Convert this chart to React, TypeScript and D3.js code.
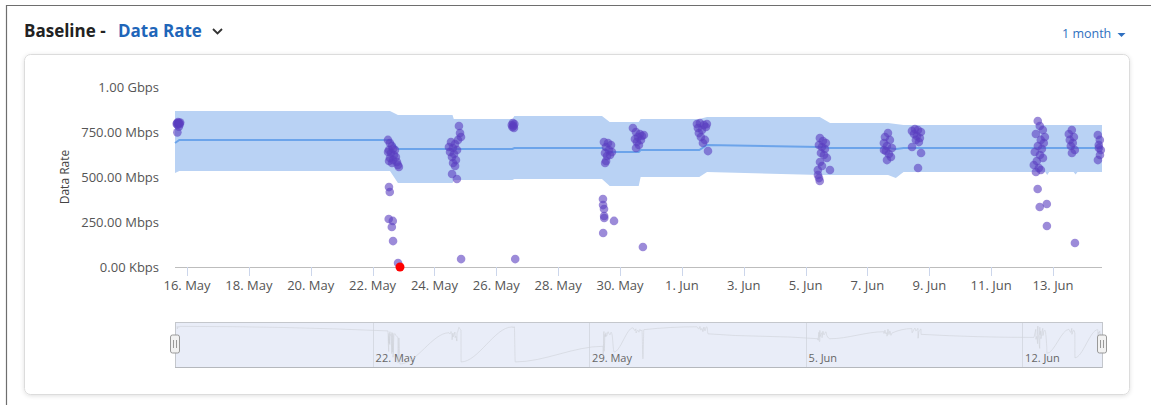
import * as d3 from 'd3'
import { useEffect, useRef } from 'react'

const parseTime = d3.timeParse('%Y-%m-%d %H:%M')

// baseline band (Mbps)
const bandTimes = [
  '2023-05-15 14:40', '2023-05-15 18:00', '2023-05-22 13:30', '2023-05-22 19:40',
  '2023-05-24 14:00', '2023-05-24 15:00', '2023-05-26 12:30', '2023-05-26 14:00',
  '2023-05-29 10:00', '2023-05-29 16:00', '2023-05-30 14:30', '2023-05-30 16:00',
  '2023-06-01 13:30', '2023-06-01 19:30', '2023-06-05 11:00', '2023-06-05 19:00',
  '2023-06-07 16:00', '2023-06-07 22:00', '2023-06-08 04:00', '2023-06-12 18:00',
  '2023-06-12 19:30', '2023-06-12 21:00', '2023-06-13 16:00', '2023-06-13 17:30',
  '2023-06-13 19:00', '2023-06-14 14:00',
]
const bandLower = [
  522, 533, 533, 467, 467, 483, 483, 489, 489, 450, 450, 500, 500, 528, 511, 511,
  511, 494, 528, 528, 511, 528, 528, 514, 528, 528,
]
const bandMean = [
  689, 706, 706, 656, 656, 656, 656, 661, 661, 639, 639, 650, 650, 678, 667, 661,
  661, 656, 661, 661, 661, 661, 661, 661, 661, 661,
]
const bandUpper = [
  867, 867, 867, 844, 844, 822, 822, 839, 839, 806, 806, 822, 822, 833, 833, 800,
  800, 795, 789, 789, 789, 789, 789, 789, 789, 789,
]

// observed data rate samples (Mbps)
const samples: [string, number][] = [
  ['2023-05-15 16:00', 795], ['2023-05-15 16:20', 800], ['2023-05-15 16:30', 748], ['2023-05-15 16:40', 790],
  ['2023-05-15 17:00', 805], ['2023-05-15 17:20', 798], ['2023-05-15 17:40', 780], ['2023-05-15 18:00', 800],
  ['2023-05-15 18:20', 793], ['2023-05-15 18:40', 803],
  ['2023-05-22 11:55', 706], ['2023-05-22 12:00', 639], ['2023-05-22 12:30', 267], ['2023-05-22 12:40', 650],
  ['2023-05-22 12:42', 444], ['2023-05-22 12:45', 589], ['2023-05-22 13:20', 417], ['2023-05-22 13:25', 689],
  ['2023-05-22 13:30', 606], ['2023-05-22 14:15', 633], ['2023-05-22 14:55', 222], ['2023-05-22 15:00', 672],
  ['2023-05-22 15:05', 578], ['2023-05-22 15:40', 256], ['2023-05-22 15:45', 656], ['2023-05-22 15:50', 594],
  ['2023-05-22 15:52', 144], ['2023-05-22 16:35', 622], ['2023-05-22 17:20', 650], ['2023-05-22 18:05', 611],
  ['2023-05-22 18:55', 583], ['2023-05-22 19:40', 567], ['2023-05-22 19:45', 22], ['2023-05-22 20:25', 556],
  ['2023-05-24 11:15', 667], ['2023-05-24 12:05', 639], ['2023-05-24 12:50', 694], ['2023-05-24 13:35', 611],
  ['2023-05-24 13:40', 517], ['2023-05-24 14:20', 661], ['2023-05-24 14:25', 578], ['2023-05-24 15:10', 628],
  ['2023-05-24 15:55', 683], ['2023-05-24 16:00', 561], ['2023-05-24 16:40', 594], ['2023-05-24 17:25', 489],
  ['2023-05-24 17:30', 650], ['2023-05-24 18:15', 706], ['2023-05-24 19:00', 783], ['2023-05-24 19:50', 744],
  ['2023-05-24 20:35', 722], ['2023-05-24 20:40', 44],
  ['2023-05-26 12:00', 789], ['2023-05-26 12:30', 778], ['2023-05-26 12:50', 800], ['2023-05-26 13:20', 783],
  ['2023-05-26 13:40', 772], ['2023-05-26 14:00', 794], ['2023-05-26 14:40', 44],
  ['2023-05-29 10:45', 378], ['2023-05-29 10:50', 344], ['2023-05-29 10:55', 189], ['2023-05-29 11:30', 694],
  ['2023-05-29 11:35', 322], ['2023-05-29 11:40', 283], ['2023-05-29 11:45', 272], ['2023-05-29 12:20', 633],
  ['2023-05-29 12:25', 578], ['2023-05-29 13:05', 667], ['2023-05-29 13:10', 589], ['2023-05-29 13:55', 617],
  ['2023-05-29 14:40', 689], ['2023-05-29 15:25', 650], ['2023-05-29 16:15', 622], ['2023-05-29 17:00', 678],
  ['2023-05-29 17:45', 639], ['2023-05-29 19:20', 256],
  ['2023-05-30 10:00', 772], ['2023-05-30 11:35', 711], ['2023-05-30 12:20', 750], ['2023-05-30 12:25', 661],
  ['2023-05-30 13:05', 694], ['2023-05-30 13:55', 722], ['2023-05-30 14:40', 678], ['2023-05-30 15:25', 739],
  ['2023-05-30 16:15', 706], ['2023-05-30 17:00', 728], ['2023-05-30 17:45', 111], ['2023-05-30 18:30', 733],
  ['2023-06-01 11:40', 794], ['2023-06-01 12:25', 772], ['2023-06-01 13:10', 744], ['2023-06-01 14:00', 800],
  ['2023-06-01 14:45', 722], ['2023-06-01 15:35', 761], ['2023-06-01 16:20', 689], ['2023-06-01 17:05', 789],
  ['2023-06-01 17:55', 706], ['2023-06-01 18:40', 778], ['2023-06-01 19:25', 794], ['2023-06-01 20:15', 644],
  ['2023-06-05 09:30', 539], ['2023-06-05 09:35', 511], ['2023-06-05 10:20', 678], ['2023-06-05 10:25', 494],
  ['2023-06-05 11:00', 478], ['2023-06-05 11:05', 717], ['2023-06-05 11:10', 583], ['2023-06-05 11:55', 633],
  ['2023-06-05 12:40', 667], ['2023-06-05 12:45', 561], ['2023-06-05 13:25', 700], ['2023-06-05 14:15', 622],
  ['2023-06-05 15:00', 656], ['2023-06-05 15:45', 689], ['2023-06-05 16:30', 606], ['2023-06-05 18:55', 539],
  ['2023-06-07 12:45', 689], ['2023-06-07 12:50', 650], ['2023-06-07 13:35', 722], ['2023-06-07 14:20', 644],
  ['2023-06-07 15:05', 672], ['2023-06-07 15:10', 594], ['2023-06-07 15:55', 744], ['2023-06-07 16:40', 628],
  ['2023-06-07 17:25', 706], ['2023-06-07 18:15', 611], ['2023-06-07 19:00', 661],
  ['2023-06-08 10:30', 756], ['2023-06-08 10:35', 667], ['2023-06-08 12:05', 739], ['2023-06-08 12:50', 767],
  ['2023-06-08 13:35', 706], ['2023-06-08 14:20', 728], ['2023-06-08 15:10', 761], ['2023-06-08 15:15', 550],
  ['2023-06-08 15:55', 694], ['2023-06-08 16:40', 717], ['2023-06-08 17:30', 750], ['2023-06-08 17:35', 633],
  ['2023-06-12 09:05', 567], ['2023-06-12 09:50', 639], ['2023-06-12 10:40', 739], ['2023-06-12 10:45', 528],
  ['2023-06-12 11:25', 589], ['2023-06-12 12:05', 433], ['2023-06-12 12:10', 811], ['2023-06-12 12:15', 672],
  ['2023-06-12 13:00', 550], ['2023-06-12 13:40', 333], ['2023-06-12 13:45', 783], ['2023-06-12 13:50', 622],
  ['2023-06-12 14:30', 706], ['2023-06-12 14:35', 539], ['2023-06-12 15:20', 656], ['2023-06-12 16:05', 761],
  ['2023-06-12 16:10', 606], ['2023-06-12 16:50', 689], ['2023-06-12 17:40', 722], ['2023-06-12 19:10', 350],
  ['2023-06-12 19:15', 228],
  ['2023-06-13 12:15', 739], ['2023-06-13 13:00', 706], ['2023-06-13 13:50', 672], ['2023-06-13 14:35', 761],
  ['2023-06-13 14:40', 633], ['2023-06-13 15:20', 689], ['2023-06-13 16:10', 722], ['2023-06-13 16:55', 650],
  ['2023-06-13 17:00', 133],
  ['2023-06-14 10:45', 733], ['2023-06-14 10:50', 594], ['2023-06-14 11:30', 678], ['2023-06-14 11:35', 661],
  ['2023-06-14 12:20', 706], ['2023-06-14 12:25', 622], ['2023-06-14 13:05', 650],
]
const anomalies: [string, number][] = [['2023-05-22 21:15', 0]]

const yTicks = [0, 250, 500, 750, 1000]
const yTickLabels = ['0.00 Kbps', '250.00 Mbps', '500.00 Mbps', '750.00 Mbps', '1.00 Gbps']
const xRange = ['2023-05-15 14:40', '2023-06-14 14:00']

const FONT = "'Open Sans', 'Noto Sans', sans-serif"

function makeChart(el: SVGSVGElement) {
  const svg = d3.select(el)
  svg.selectAll('*').remove()

  const left = 175, right = 1102, top = 87, bottom = 267
  const navTop = 322, navBottom = 367

  const start = parseTime(xRange[0]) as Date
  const end = parseTime(xRange[1]) as Date
  const x = d3.scaleTime().domain([start, end]).range([left, right])
  const y = d3.scaleLinear().domain([0, 1000]).range([bottom, top])

  const defs = svg.append('defs')
  const f = defs.append('filter').attr('id', 'cardShadow')
    .attr('x', '-2%').attr('y', '-5%').attr('width', '104%').attr('height', '112%')
  f.append('feDropShadow').attr('dx', 0).attr('dy', 1).attr('stdDeviation', 2)
    .attr('flood-color', '#000').attr('flood-opacity', 0.12)

  // outer frame
  svg.append('path').attr('d', 'M6.5,405 V5.5 H1151')
    .attr('fill', 'none').attr('stroke', '#6e6e6e').attr('stroke-width', 1.2)

  // header
  svg.append('text').attr('x', 24).attr('y', 37).attr('font-family', FONT)
    .attr('font-size', 17).attr('font-weight', 700).attr('fill', '#222').text('Baseline -')
  svg.append('text').attr('x', 118).attr('y', 37).attr('font-family', FONT)
    .attr('font-size', 17).attr('font-weight', 700).attr('fill', '#1f66b9').text('Data Rate')
  svg.append('path').attr('d', 'M213,29 L217.5,33.5 L222,29')
    .attr('fill', 'none').attr('stroke', '#333').attr('stroke-width', 1.8)

  svg.append('text').attr('x', 1062).attr('y', 38).attr('font-family', FONT)
    .attr('font-size', 12.5).attr('fill', '#2f6fc0').text('1 month')
  svg.append('path').attr('d', 'M1117.5,33 L1125.5,33 L1121.5,37 Z').attr('fill', '#2f6fc0')

  // card
  svg.append('rect').attr('x', 24.5).attr('y', 54.5).attr('width', 1105).attr('height', 340)
    .attr('rx', 6).attr('fill', '#fff').attr('stroke', '#dcdcdc').attr('filter', 'url(#cardShadow)')

  // y axis labels + title
  svg.append('g').selectAll('text').data(yTicks).enter().append('text')
    .attr('x', 159).attr('y', d => y(d) + 4.5).attr('text-anchor', 'end')
    .attr('font-family', FONT).attr('font-size', 13).attr('fill', '#555')
    .text((d, i) => yTickLabels[i])
  svg.append('text').attr('transform', 'translate(69,177) rotate(-90)').attr('text-anchor', 'middle')
    .attr('font-family', FONT).attr('font-size', 12).attr('fill', '#444').text('Data Rate')

  // baseline band
  const band = bandTimes.map((t, i) => ({ t: parseTime(t) as Date, lo: bandLower[i], m: bandMean[i], hi: bandUpper[i] }))
  svg.append('path').datum(band)
    .attr('d', d3.area<any>().x(d => x(d.t)).y0(d => y(d.lo)).y1(d => y(d.hi)))
    .attr('fill', '#b9d2f4')
  svg.append('path').datum(band)
    .attr('d', d3.line<any>().x(d => x(d.t)).y(d => y(d.m)))
    .attr('fill', 'none').attr('stroke', '#6ca4ea').attr('stroke-width', 2)

  // x axis
  svg.append('line').attr('x1', left).attr('x2', right).attr('y1', bottom + 0.5).attr('y2', bottom + 0.5)
    .attr('stroke', '#bdbdbd')
  const ticks = d3.timeDay.range(parseTime('2023-05-16 00:00') as Date, end, 2)
  const fmt = d3.timeFormat('%-d. %b')
  const xg = svg.append('g')
  xg.selectAll('line').data(ticks).enter().append('line')
    .attr('x1', d => Math.round(x(d)) + 0.5).attr('x2', d => Math.round(x(d)) + 0.5)
    .attr('y1', bottom).attr('y2', bottom + 9).attr('stroke', '#ccd6eb')
  xg.selectAll('text').data(ticks).enter().append('text')
    .attr('x', d => x(d)).attr('y', 290).attr('text-anchor', 'middle')
    .attr('font-family', FONT).attr('font-size', 13).attr('fill', '#555')
    .text(d => fmt(d))

  // samples
  const pts = samples.map(([t, v]) => ({ t: parseTime(t) as Date, v }))
  svg.append('g').selectAll('circle').data(pts).enter().append('circle')
    .attr('cx', d => x(d.t)).attr('cy', d => y(d.v)).attr('r', 4.3)
    .attr('fill', '#5a3ec0').attr('fill-opacity', 0.6)
  svg.append('g').selectAll('circle').data(anomalies).enter().append('circle')
    .attr('cx', d => x(parseTime(d[0]) as Date)).attr('cy', d => y(d[1])).attr('r', 4.5)
    .attr('fill', '#ff0000')

  // navigator
  const ny = d3.scaleLinear().domain([0, d3.max(pts, d => d.v) as number]).range([navBottom - 3, navTop + 4])
  svg.append('rect').attr('x', left + 0.5).attr('y', navTop + 0.5)
    .attr('width', right - left).attr('height', navBottom - navTop)
    .attr('fill', '#e9edf8').attr('stroke', '#c4c7cc')
  const navTicks = d3.timeMonday.range(start, end)
  const ng = svg.append('g')
  ng.selectAll('line').data(navTicks).enter().append('line')
    .attr('x1', d => Math.round(x(d)) + 0.5).attr('x2', d => Math.round(x(d)) + 0.5)
    .attr('y1', navTop + 1).attr('y2', navBottom).attr('stroke', '#d6dae3')
  const allPts = pts.concat(anomalies.map(([t, v]) => ({ t: parseTime(t) as Date, v })))
    .sort((a, b) => +a.t - +b.t)
  svg.append('path').datum(allPts)
    .attr('d', d3.line<any>().x(d => x(d.t)).y(d => ny(d.v)).curve(d3.curveMonotoneX))
    .attr('fill', 'none').attr('stroke', '#cfd2d8').attr('stroke-width', 1).attr('opacity', 0.6)
  ng.selectAll('text').data(navTicks).enter().append('text')
    .attr('x', d => x(d) + 3).attr('y', 362)
    .attr('font-family', FONT).attr('font-size', 11).attr('fill', '#666')
    .text(d => fmt(d))
  svg.append('line').attr('x1', left).attr('x2', right).attr('y1', navBottom + 0.5).attr('y2', navBottom + 0.5)
    .attr('stroke', '#b5b8bd')

  const handles = svg.append('g').selectAll('g').data([left, right]).enter().append('g')
    .attr('transform', d => `translate(${d},344)`)
  handles.append('rect').attr('x', -4.5).attr('y', -9).attr('width', 9).attr('height', 18).attr('rx', 2)
    .attr('fill', '#f2f2f2').attr('stroke', '#999')
  handles.append('path').attr('d', 'M-1.5,-4 V4 M1.5,-4 V4').attr('stroke', '#999')
}

export default function App() {
  const ref = useRef<SVGSVGElement>(null)
  useEffect(() => {
    if (ref.current) makeChart(ref.current)
  }, [])

  return (
    <svg ref={ref} width={1151} height={405}
      style={{ position: 'absolute', left: 0, top: 0, background: '#fff' }} />
  )
}
